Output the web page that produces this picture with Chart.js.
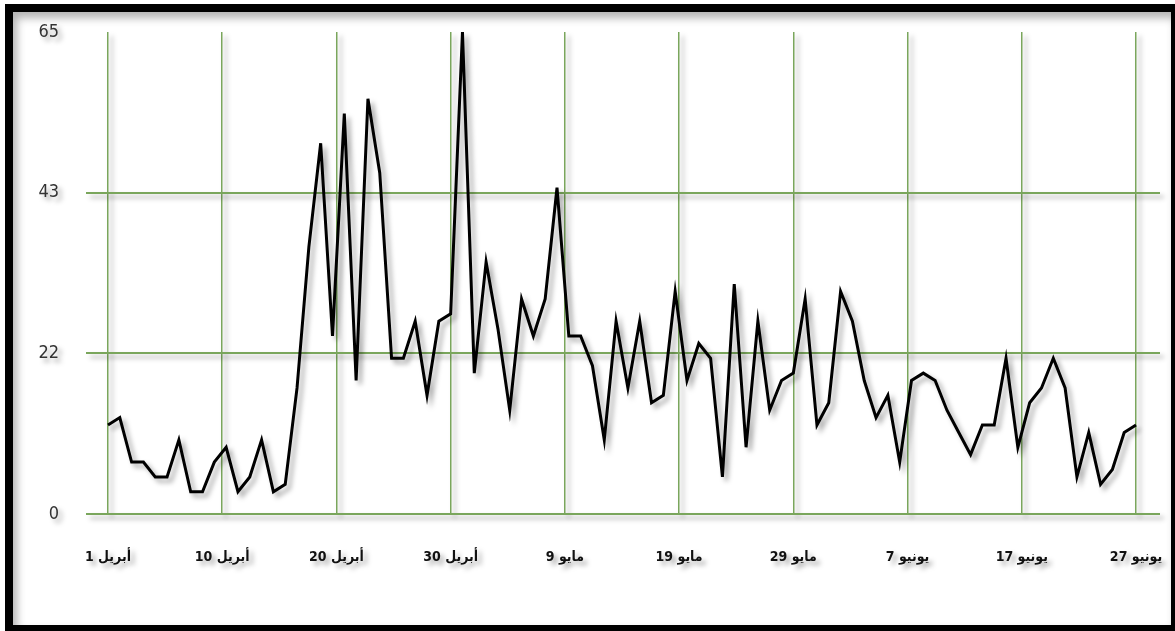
<!DOCTYPE html>
<html lang="ar">
<head>
  <meta charset="UTF-8">
  <title>Daily chart</title>
  <script src="https://cdn.jsdelivr.net/npm/chart.js"></script>
  <style>
    html, body {
      margin: 0;
      padding: 0;
      background: #fff;
      overflow: hidden;
    }
    #wrap {
      position: absolute;
      top: 0; left: 0;
      width: 1175px;
      height: 631px;
    }
    .frame {
      position: absolute;
      left: 5px; top: 4px;
      right: 0; bottom: 0;
      border-left: 8px solid #000;
      border-top: 8px solid #000;
      border-right: 4px solid #000;
      border-bottom: 6px solid #000;
      box-shadow: inset 4px 6px 8px rgba(0,0,0,0.3);
      pointer-events: none;
      z-index: 2;
    }
    canvas {
      position: absolute;
      top: 0; left: 0;
    }
  </style>
</head>
<body>
  <div id="wrap">
    <canvas id="chart" width="1175" height="631"></canvas>
    <div class="frame"></div>
  </div>

  <script>
    // daily values, 1 April .. 27 June (88 days)
    const values = [
      12, 13, 7, 7, 5, 5, 10, 3, 3, 7,
      9, 3, 5, 10, 3, 4, 17, 36, 50, 24,
      54, 18, 56, 46, 21, 21, 26, 16, 26, 27,
      65, 19, 34, 25, 14, 29, 24, 29, 44, 24,
      24, 20, 10, 26, 17, 26, 15, 16, 30, 18,
      23, 21, 5, 31, 9, 26, 14, 18, 19, 29,
      12, 15, 30, 26, 18, 13, 16, 7, 18, 19,
      18, 14, 11, 8, 12, 12, 21, 9, 15, 17,
      21, 17, 5, 11, 4, 6, 11, 12
    ];
    const xTickLabels = ['أبريل 1', 'أبريل 10', 'أبريل 20', 'أبريل 30', 'مايو 9',
                         'مايو 19', 'مايو 29', 'يونيو 7', 'يونيو 17', 'يونيو 27'];
    const yTickLabels = ['0', '22', '43', '65'];

    const lastDay = values.length - 1;
    const points = values.map((v, i) => ({ x: i, y: v }));
    const green = '#7aa65c';

    const shadowPlugin = {
      id: 'shadow',
      beforeDraw(chart) {
        const ctx = chart.ctx;
        ctx.save();
        ctx.shadowColor = 'rgba(0,0,0,0.35)';
        ctx.shadowBlur = 5;
        ctx.shadowOffsetX = 4;
        ctx.shadowOffsetY = 4;
      },
      afterDraw(chart) {
        chart.ctx.restore();
      }
    };

    new Chart(document.getElementById('chart'), {
      type: 'line',
      data: {
        datasets: [{
          data: points,
          borderColor: '#000',
          borderWidth: 3,
          pointRadius: 0,
          tension: 0,
          fill: false
        }]
      },
      options: {
        responsive: false,
        animation: false,
        layout: { padding: { top: 32, right: 15, left: 0, bottom: 0 } },
        plugins: { legend: { display: false }, tooltip: { enabled: false } },
        scales: {
          x: {
            type: 'linear',
            min: -1.86,
            max: 89.03,
            afterBuildTicks: axis => {
              axis.ticks = xTickLabels.map((_, k) => ({ value: k * lastDay / (xTickLabels.length - 1) }));
            },
            afterFit: axis => {
              axis.height = 117;
              axis.paddingLeft = 0;
              axis.paddingRight = 0;
            },
            border: { display: false },
            grid: { color: green, lineWidth: 1.5, drawTicks: false },
            ticks: {
              autoSkip: false,
              maxRotation: 0,
              padding: 35,
              color: '#111',
              font: { family: "'DejaVu Sans Condensed', 'DejaVu Sans', sans-serif", size: 14, weight: 'bold' },
              callback: (val, idx) => '\u2067' + xTickLabels[idx] + '\u2069'
            }
          },
          y: {
            min: 0,
            max: 65,
            afterBuildTicks: axis => {
              axis.ticks = yTickLabels.map((_, k) => ({ value: k * 65 / 3 }));
            },
            afterFit: axis => {
              axis.width = 86;
              axis.paddingTop = 0;
              axis.paddingBottom = 0;
            },
            border: { display: false },
            grid: {
              color: c => (c.tick && c.tick.value >= 65 ? 'rgba(0,0,0,0)' : green),
              lineWidth: 2,
              drawTicks: false
            },
            ticks: {
              padding: 27,
              color: '#333',
              font: { family: "'Liberation Sans Narrow', 'DejaVu Sans Condensed', sans-serif", size: 18 },
              callback: (val, idx) => yTickLabels[idx]
            }
          }
        }
      },
      plugins: [shadowPlugin]
    });
  </script>
</body>
</html>
